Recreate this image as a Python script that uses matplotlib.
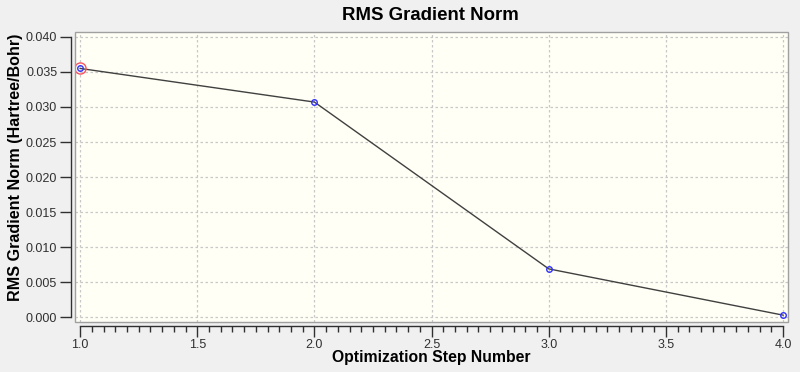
import matplotlib
matplotlib.use("Agg")
import matplotlib.pyplot as plt
from matplotlib.patches import Rectangle
from matplotlib.ticker import MultipleLocator, FormatStrFormatter

steps = [1.0, 2.0, 3.0, 4.0]
rms_grad = [0.0355, 0.0307, 0.0069, 0.0003]
title = "RMS Gradient Norm"
xlabel = "Optimization Step Number"
ylabel = "RMS Gradient Norm (Hartree/Bohr)"

plt.rcParams['font.family'] = ['Liberation Sans', 'DejaVu Sans']

fig = plt.figure(figsize=(8, 3.72), dpi=100, facecolor='#f0f0f0')
ax = fig.add_axes([0.094, 0.134, 0.891, 0.78])
ax.set_facecolor('#fffff5')

ax.set_xlim(0.979, 4.021)
ax.set_ylim(-0.0007, 0.0407)

for s in ['top', 'right']:
    ax.spines[s].set_visible(False)
ax.spines['left'].set_position(('outward', 3))
ax.spines['bottom'].set_position(('outward', 3))
ax.spines['left'].set_bounds(0.0, 0.040)
ax.spines['bottom'].set_bounds(1.0, 4.0)
for s in ['left', 'bottom']:
    ax.spines[s].set_color('#303030')
    ax.spines[s].set_linewidth(1.0)

ax.add_patch(Rectangle((0, 0), 1, 1, transform=ax.transAxes, fill=False,
                       edgecolor='#a0a0a0', linewidth=1.0, zorder=5, clip_on=False))

ax.xaxis.set_major_locator(MultipleLocator(0.5))
ax.xaxis.set_minor_locator(MultipleLocator(0.05))
ax.yaxis.set_major_locator(MultipleLocator(0.005))
ax.xaxis.set_major_formatter(FormatStrFormatter('%.1f'))
ax.yaxis.set_major_formatter(FormatStrFormatter('%.3f'))
ax.tick_params(axis='x', which='major', length=8, width=1, color='#303030',
               labelsize=9, labelcolor='#303030', pad=1)
ax.tick_params(axis='x', which='minor', length=4, width=1, color='#303030')
ax.tick_params(axis='y', which='major', length=8, width=1, color='#303030',
               labelsize=9, labelcolor='#303030', pad=2)

ax.grid(True, which='major', color='#c8c8c8', linestyle=(0, (2, 2)), linewidth=0.9)
ax.set_axisbelow(True)

ax.plot(steps, rms_grad, color='#404040', linewidth=1.0, zorder=3)
ax.plot(steps, rms_grad, linestyle='none', marker='o', markersize=4,
        markerfacecolor='none', markeredgecolor='#3030ff', markeredgewidth=1.0, zorder=4)
ax.plot(steps[:1], rms_grad[:1], linestyle='none', marker='o', markersize=8,
        markerfacecolor='none', markeredgecolor='#ff5060', markeredgewidth=1.0, zorder=4)

fig.text(0.538, 0.958, title, ha='center', va='center', fontsize=13.4, fontweight='bold')
fig.text(0.539, 0.038, xlabel, ha='center', va='center', fontsize=11.3, fontweight='bold')
fig.text(0.019, 0.55, ylabel, ha='center', va='center', rotation=90,
         fontsize=11.6, fontweight='bold')

fig.savefig('out.png', dpi=100, facecolor=fig.get_facecolor())
